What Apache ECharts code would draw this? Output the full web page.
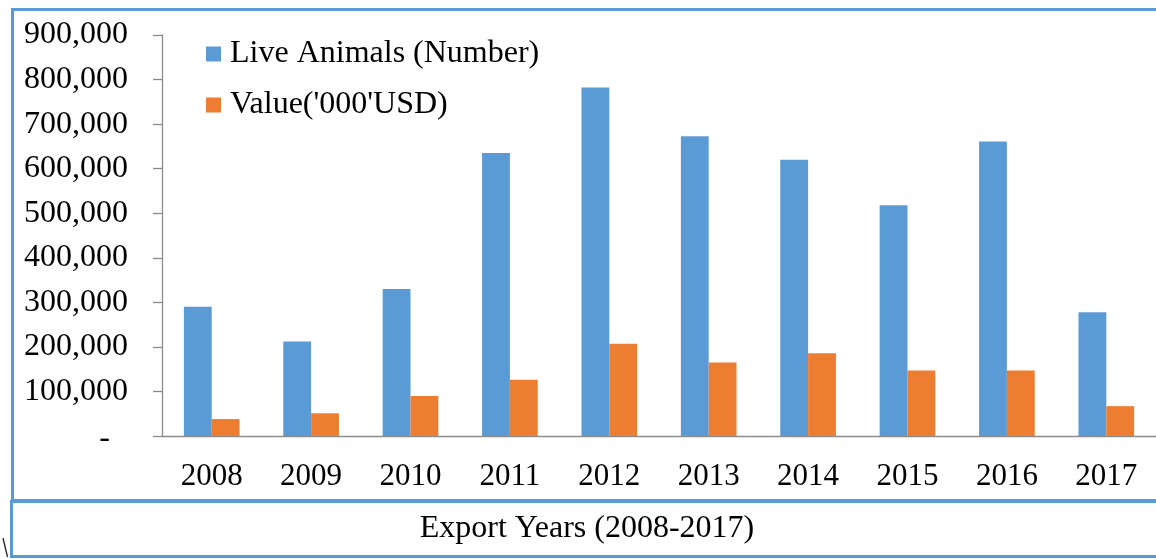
<!DOCTYPE html>
<html>
<head>
<meta charset="utf-8">
<script src="https://cdn.jsdelivr.net/npm/echarts@6/dist/echarts.min.js"></script>
<style>
html,body{margin:0;padding:0;background:#fff;}
#chart{width:1156px;height:559px;}
</style>
</head>
<body>
<div id="chart"></div>
<script>
const years = ['2008','2009','2010','2011','2012','2013','2014','2015','2016','2017'];
const liveAnimals = [290000, 212000, 330000, 635000, 782000, 673000, 620000, 518000, 661000, 278000];
const valueUSD = [38000, 51000, 90000, 126000, 207000, 165000, 186000, 147000, 147000, 67000];
const seriesNames = ['Live Animals (Number)', "Value('000'USD)"];
const axisTitle = 'Export Years (2008-2017)';

const FONT = "'Liberation Serif', 'Times New Roman', serif";
const BLUE = '#5B9BD5';
const ORANGE = '#ED7D31';
const FRAME = '#5B9BD5';

function fmt(v) {
  if (v === 0) return '{z|-}';
  return String(v).replace(/\B(?=(\d{3})+(?!\d))/g, ',');
}

const chart = echarts.init(document.getElementById('chart'));
chart.setOption({
  backgroundColor: '#fff',
  animation: false,
  grid: { left: 162, top: 35, width: 1000, height: 401 },
  legend: {
    orient: 'vertical',
    left: 206,
    top: 38,
    padding: 0,
    itemWidth: 15,
    itemHeight: 15,
    itemGap: 19,
    icon: 'rect',
    textStyle: { fontFamily: FONT, fontSize: 32, color: '#000', padding: [0, 0, 0, 4] },
    data: seriesNames
  },
  xAxis: {
    type: 'category',
    data: years,
    axisLine: { lineStyle: { color: '#8c8c8c', width: 1.3 } },
    axisTick: { length: 10, lineStyle: { color: '#8c8c8c', width: 1.3 } },
    axisLabel: { fontFamily: FONT, fontSize: 31, color: '#000', margin: 25 }
  },
  yAxis: {
    type: 'value',
    min: 0,
    max: 900000,
    interval: 100000,
    splitLine: { show: false },
    axisLine: { show: true, lineStyle: { color: '#8c8c8c', width: 1.3 } },
    axisTick: { show: true, length: 9, lineStyle: { color: '#8c8c8c', width: 1.3 } },
    axisLabel: {
      fontFamily: FONT, fontSize: 32, color: '#000', margin: 34,
      formatter: fmt,
      rich: { z: { fontFamily: FONT, fontSize: 32, color: '#000', padding: [6, 18, 0, 0] } }
    }
  },
  series: [
    { name: seriesNames[0], type: 'bar', data: liveAnimals, itemStyle: { color: BLUE }, barGap: '0%', barCategoryGap: '44%' },
    { name: seriesNames[1], type: 'bar', data: valueUSD, itemStyle: { color: ORANGE }, barGap: '0%', barCategoryGap: '44%' }
  ],
  graphic: [
    { type: 'rect', shape: { x: 12.5, y: 9.5, width: 1170, height: 491 }, style: { fill: 'none', stroke: FRAME, lineWidth: 3 }, silent: true },
    { type: 'rect', shape: { x: 11.5, y: 501.5, width: 1170, height: 55 }, style: { fill: 'none', stroke: FRAME, lineWidth: 3 }, silent: true },
    { type: 'text', x: 587, y: 529, style: { text: axisTitle, fontFamily: FONT, fontSize: 32, fill: '#000', align: 'center', verticalAlign: 'middle' }, silent: true },
    { type: 'line', shape: { x1: 3, y1: 538, x2: 7.5, y2: 557 }, style: { stroke: '#222', lineWidth: 1.3 }, silent: true }
  ]
});
</script>
</body>
</html>
